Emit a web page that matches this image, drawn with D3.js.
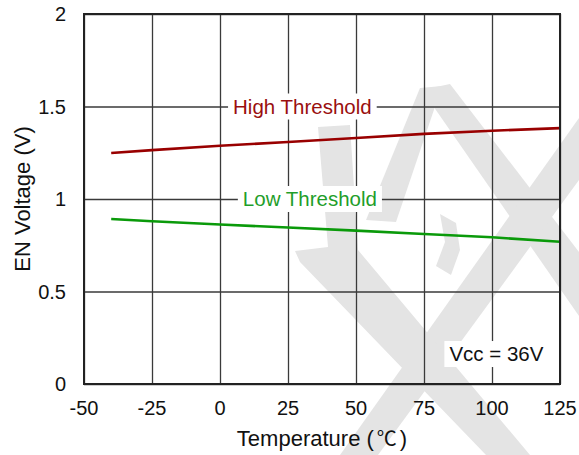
<!DOCTYPE html>
<html>
<head>
<meta charset="utf-8">
<script src="https://cdn.jsdelivr.net/npm/d3@7/dist/d3.min.js"></script>
<style>
  body { margin: 0; background: #fff; }
  text { font-family: "Liberation Sans", Arial, sans-serif; fill: #111; }
</style>
</head>
<body>
<svg width="579" height="455"></svg>
<script>
// data
var temps = [-40, -25, 0, 25, 50, 75, 100, 125];
var highThreshold = [1.249, 1.264, 1.288, 1.308, 1.330, 1.352, 1.369, 1.383];
var lowThreshold = [0.892, 0.880, 0.862, 0.846, 0.829, 0.811, 0.793, 0.769];

var xTicks = [-50, -25, 0, 25, 50, 75, 100, 125];
var yTicks = [0, 0.5, 1, 1.5, 2];
var yTickLabels = ["0", "0.5", "1", "1.5", "2"];

var svg = d3.select("svg"),
    margin = {top: 14, right: 19, bottom: 71, left: 84},
    width = +svg.attr("width") - margin.left - margin.right,
    height = +svg.attr("height") - margin.top - margin.bottom;

var x = d3.scaleLinear().domain([-50, 125]).range([0, width]),
    y = d3.scaleLinear().domain([0, 2]).range([height, 0]);

// background watermark (decorative, pixel coords)
var watermark = [
  [[422,90],[450,84],[579,252],[579,316]],
  [[420,88],[442,86],[396,222],[366,220]],
  [[579,118],[579,180],[378,455],[340,455]],
  [[318,127],[350,125],[358,250],[530,455],[486,455],[300,262],[295,251],[328,247]],
  [[440,214],[456,223],[460,250],[451,275],[436,266],[445,242]]
];
svg.append("g")
    .selectAll("polygon")
    .data(watermark)
    .enter().append("polygon")
    .attr("points", function(d) { return d.join(" "); })
    .style("fill", "#e4e4e4");

var g = svg.append("g")
    .attr("transform", "translate(" + margin.left + "," + margin.top + ")");

// grid
g.append("g")
    .attr("class", "grid")
    .attr("transform", "translate(0," + height + ")")
    .call(d3.axisBottom(x).tickValues(xTicks).tickSize(-height).tickFormat(""))
    .call(function(s) { s.select(".domain").remove(); });

g.append("g")
    .attr("class", "grid")
    .call(d3.axisLeft(y).tickValues(yTicks).tickSize(-width).tickFormat(""))
    .call(function(s) { s.select(".domain").remove(); });

g.selectAll(".grid line")
    .style("stroke", "#3a3a3a")
    .style("stroke-width", 1.3);

// lines
var line = d3.line()
    .x(function(d) { return x(d[0]); })
    .y(function(d) { return y(d[1]); });

g.append("path")
    .datum(d3.zip(temps, highThreshold))
    .attr("d", line)
    .style("fill", "none")
    .style("stroke", "#990000")
    .style("stroke-width", 2.6);

g.append("path")
    .datum(d3.zip(temps, lowThreshold))
    .attr("d", line)
    .style("fill", "none")
    .style("stroke", "#0a9a0a")
    .style("stroke-width", 2.6);

// frame
g.append("rect")
    .attr("width", width)
    .attr("height", height)
    .style("fill", "none")
    .style("stroke", "#222")
    .style("stroke-width", 2);

// labels with white boxes
function boxedLabel(text, xv, yv, color, anchor) {
  var lab = g.append("g");
  var box = lab.append("rect").style("fill", "#fff");
  var t = lab.append("text")
      .attr("x", x(xv))
      .attr("y", y(yv))
      .attr("dy", "0.36em")
      .attr("text-anchor", anchor)
      .style("font-size", "20.5px")
      .style("fill", color)
      .text(text);
  var b = t.node().getBBox();
  box.attr("x", b.x - 5).attr("y", y(yv) - 13)
     .attr("width", b.width + 10).attr("height", 26);
}
boxedLabel("High Threshold", 4.8, 1.5, "#9a0f0f", "start");
boxedLabel("Low Threshold", 8.4, 1.0, "#1f9e2a", "start");
boxedLabel("Vcc = 36V", 118.9, 0.162, "#111", "end");

// tick labels
svg.append("g")
    .selectAll("text")
    .data(yTicks)
    .enter().append("text")
    .attr("x", margin.left - 18)
    .attr("y", function(d) { return margin.top + y(d); })
    .attr("dy", "0.36em")
    .attr("text-anchor", "end")
    .style("font-size", "20px")
    .text(function(d, i) { return yTickLabels[i]; });

svg.append("g")
    .selectAll("text")
    .data(xTicks)
    .enter().append("text")
    .attr("x", function(d) { return margin.left + x(d); })
    .attr("y", 415)
    .attr("text-anchor", "middle")
    .style("font-size", "20px")
    .text(function(d) { return d; });

// axis titles
var xt = svg.append("text")
    .attr("x", margin.left + width / 2)
    .attr("y", 446)
    .attr("text-anchor", "middle")
    .style("font-size", "22px");
xt.append("tspan").text("Temperature (");
xt.append("tspan").attr("dx", 3).style("font-family", "'Noto Sans CJK SC'").style("font-size", "20px").text("\u2103");
xt.append("tspan").attr("dx", 3).text(")");

svg.append("text")
    .attr("transform", "translate(30," + (margin.top + height / 2) + ") rotate(-90)")
    .attr("text-anchor", "middle")
    .style("font-size", "22px")
    .text("EN Voltage (V)");
</script>
</body>
</html>
